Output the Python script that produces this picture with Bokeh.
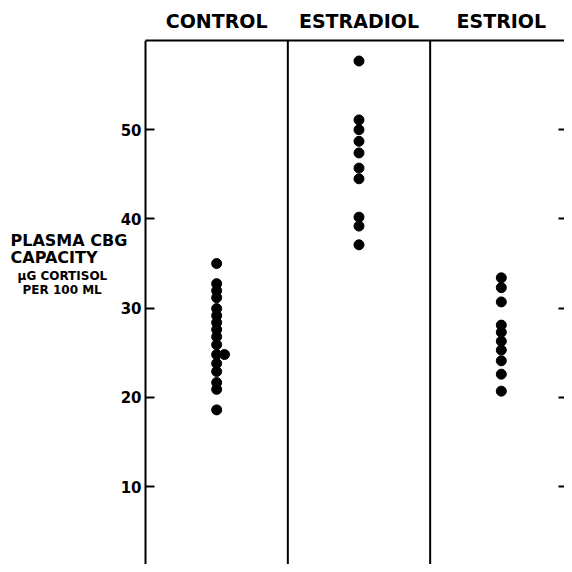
from bokeh.plotting import figure
from bokeh.models import (ColumnDataSource, Range1d, LinearAxis,
                          FixedTicker, Span, Label)
from bokeh.embed import file_html
from bokeh.resources import INLINE

groups = ["CONTROL", "ESTRADIOL", "ESTRIOL"]
control = [35.0, 32.75, 31.96, 31.18, 29.95, 29.17, 28.38, 27.6, 26.8, 25.9,
           24.8, 23.8, 22.9, 21.66, 20.9, 18.6]
control_extra = [24.8]
estradiol = [57.7, 51.1, 50.0, 48.7, 47.4, 45.7, 44.5, 40.2, 39.2, 37.1]
estriol = [33.4, 32.3, 30.7, 28.1, 27.3, 26.3, 25.3, 24.1, 22.6, 20.7]
y_ticks = [10, 20, 30, 40, 50]
label_lines = ["PLASMA CBG", "CAPACITY", "\u03bcG CORTISOL", "PER 100 ML"]

FONT = "DejaVu Sans"
centers = [i + 0.5 for i in range(len(groups))]
X0, X1 = -1.0188, 2.9439

xs, ys = [], []
for c, vals in zip(centers, [control, estradiol, estriol]):
    xs += [c] * len(vals)
    ys += vals
src = ColumnDataSource(dict(x=xs, y=ys))
src2 = ColumnDataSource(dict(x=[centers[0] + 0.055] * len(control_extra),
                             y=control_extra))

p = figure(width=564, height=564, output_backend="svg", toolbar_location=None,
           x_range=Range1d(X0, X1), y_range=Range1d(1.27, 60.0),
           x_axis_location=None, y_axis_location=None,
           min_border_left=0, min_border_right=0, min_border_top=40,
           min_border_bottom=0)
p.outline_line_color = None
p.xgrid.visible = False
p.ygrid.visible = False
p.background_fill_color = "white"
p.border_fill_color = "white"

# left axis, fixed at x = 0 inside the frame
la = LinearAxis(ticker=FixedTicker(ticks=y_ticks), fixed_location=0)
la.axis_line_width = 2
la.axis_line_color = "black"
la.major_tick_in = 9
la.major_tick_out = 0
la.major_tick_line_width = 2
la.minor_tick_line_color = None
la.major_label_standoff = 4
la.major_label_text_font = FONT
la.major_label_text_font_style = "bold"
la.major_label_text_font_size = "15px"
la.major_label_text_color = "black"
p.add_layout(la, "left")

# right axis (ticks only)
ra = LinearAxis(ticker=FixedTicker(ticks=y_ticks))
ra.axis_line_color = None
ra.major_tick_in = 6
ra.major_tick_out = 0
ra.major_tick_line_width = 2
ra.minor_tick_line_color = None
ra.major_label_overrides = {t: "" for t in y_ticks}
ra.major_label_standoff = 0
p.add_layout(ra, "right")

# top axis with group headers
ta = LinearAxis(ticker=FixedTicker(ticks=centers), bounds=(0, X1))
ta.major_label_overrides = {c: g for c, g in zip(centers, groups)}
ta.axis_line_width = 2
ta.axis_line_color = "black"
ta.major_tick_in = 0
ta.major_tick_out = 0
ta.major_tick_line_color = None
ta.minor_tick_line_color = None
ta.major_label_standoff = 9
ta.major_label_text_font = FONT
ta.major_label_text_font_style = "bold"
ta.major_label_text_font_size = "19px"
ta.major_label_text_color = "black"
p.add_layout(ta, "above")

for loc in [1, 2]:
    p.add_layout(Span(location=loc, dimension="height", line_color="black",
                      line_width=2))

p.scatter("x", "y", source=src, size=10, color="black")
p.scatter("x", "y", source=src2, size=10, color="black")

# y label block
lab_pos = [(-0.9485, 37.58, "16px"), (-0.9485, 35.68, "16px"),
           (-0.899, 33.66, "12px"), (-0.864, 31.98, "12px")]
for txt, (lx, ly, fs) in zip(label_lines, lab_pos):
    p.add_layout(Label(x=lx, y=ly, text=txt, text_font=FONT,
                       text_font_style="bold", text_font_size=fs,
                       text_color="black", text_baseline="middle",
                       text_align="left"))

open("out.html", "w").write(file_html(p, INLINE))
